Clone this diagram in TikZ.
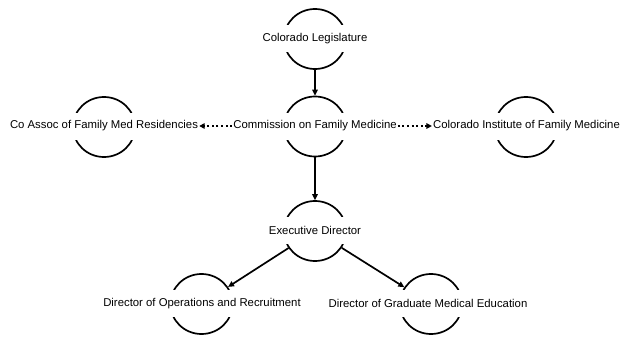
\documentclass[tikz,border=0pt]{standalone}
\usepackage{fontspec}
\setmainfont{Liberation Sans}
\usetikzlibrary{shapes.geometric,arrows.meta}
\begin{document}
\begin{tikzpicture}[x=1pt,y=-1pt,
  ring/.style={ellipse,draw=black,line width=1.7pt,minimum width=62pt,minimum height=60pt,inner sep=0pt},
  lbl/.style={fill=white,inner xsep=1pt,inner ysep=0pt,minimum height=27pt,font=\fontsize{11.35}{13}\selectfont,text=black},
  solidarrow/.style={line width=1.7pt,-{Triangle[length=6pt,width=5.5pt]}},
  dotarrow/.style={line width=2pt,dash pattern=on 2pt off 2.6pt,-{Triangle[length=5.5pt,width=5.5pt]}}]
\useasboundingbox (0,0) rectangle (624,337);
% rings
\node[ring] (leg) at (315,39) {};
\node[ring] (com) at (315,126.5) {};
\node[ring] (assoc) at (104,127) {};
\node[ring] (inst) at (526,127) {};
\node[ring] (exec) at (315,231) {};
\node[ring] (dops) at (201.5,304) {};
\node[ring] (dgme) at (431,304) {};
% labels
\node[lbl] (legl) at (315,39) {Colorado Legislature};
\node[lbl] (coml) at (315,126) {Commission on Family Medicine};
\node[lbl] (assocl) at (104,126) {Co Assoc of Family Med Residencies};
\node[lbl] (instl) at (526.5,126) {Colorado Institute of Family Medicine};
\node[lbl] (execl) at (315,230.5) {Executive Director};
\node[lbl] (dopsl) at (202,303.5) {Director of Operations and Recruitment};
\node[lbl] (dgmel) at (428,303.5) {Director of Graduate Medical Education};
% connectors
\draw[solidarrow] (leg) -- (com);
\draw[solidarrow] (com) -- (exec);
\draw[solidarrow] (exec) -- (dops);
\draw[solidarrow] (exec) -- (dgme);
\draw[dotarrow] (coml.west) -- (assocl.east);
\draw[dotarrow] (coml.east) -- (instl.west);
\end{tikzpicture}
\end{document}
